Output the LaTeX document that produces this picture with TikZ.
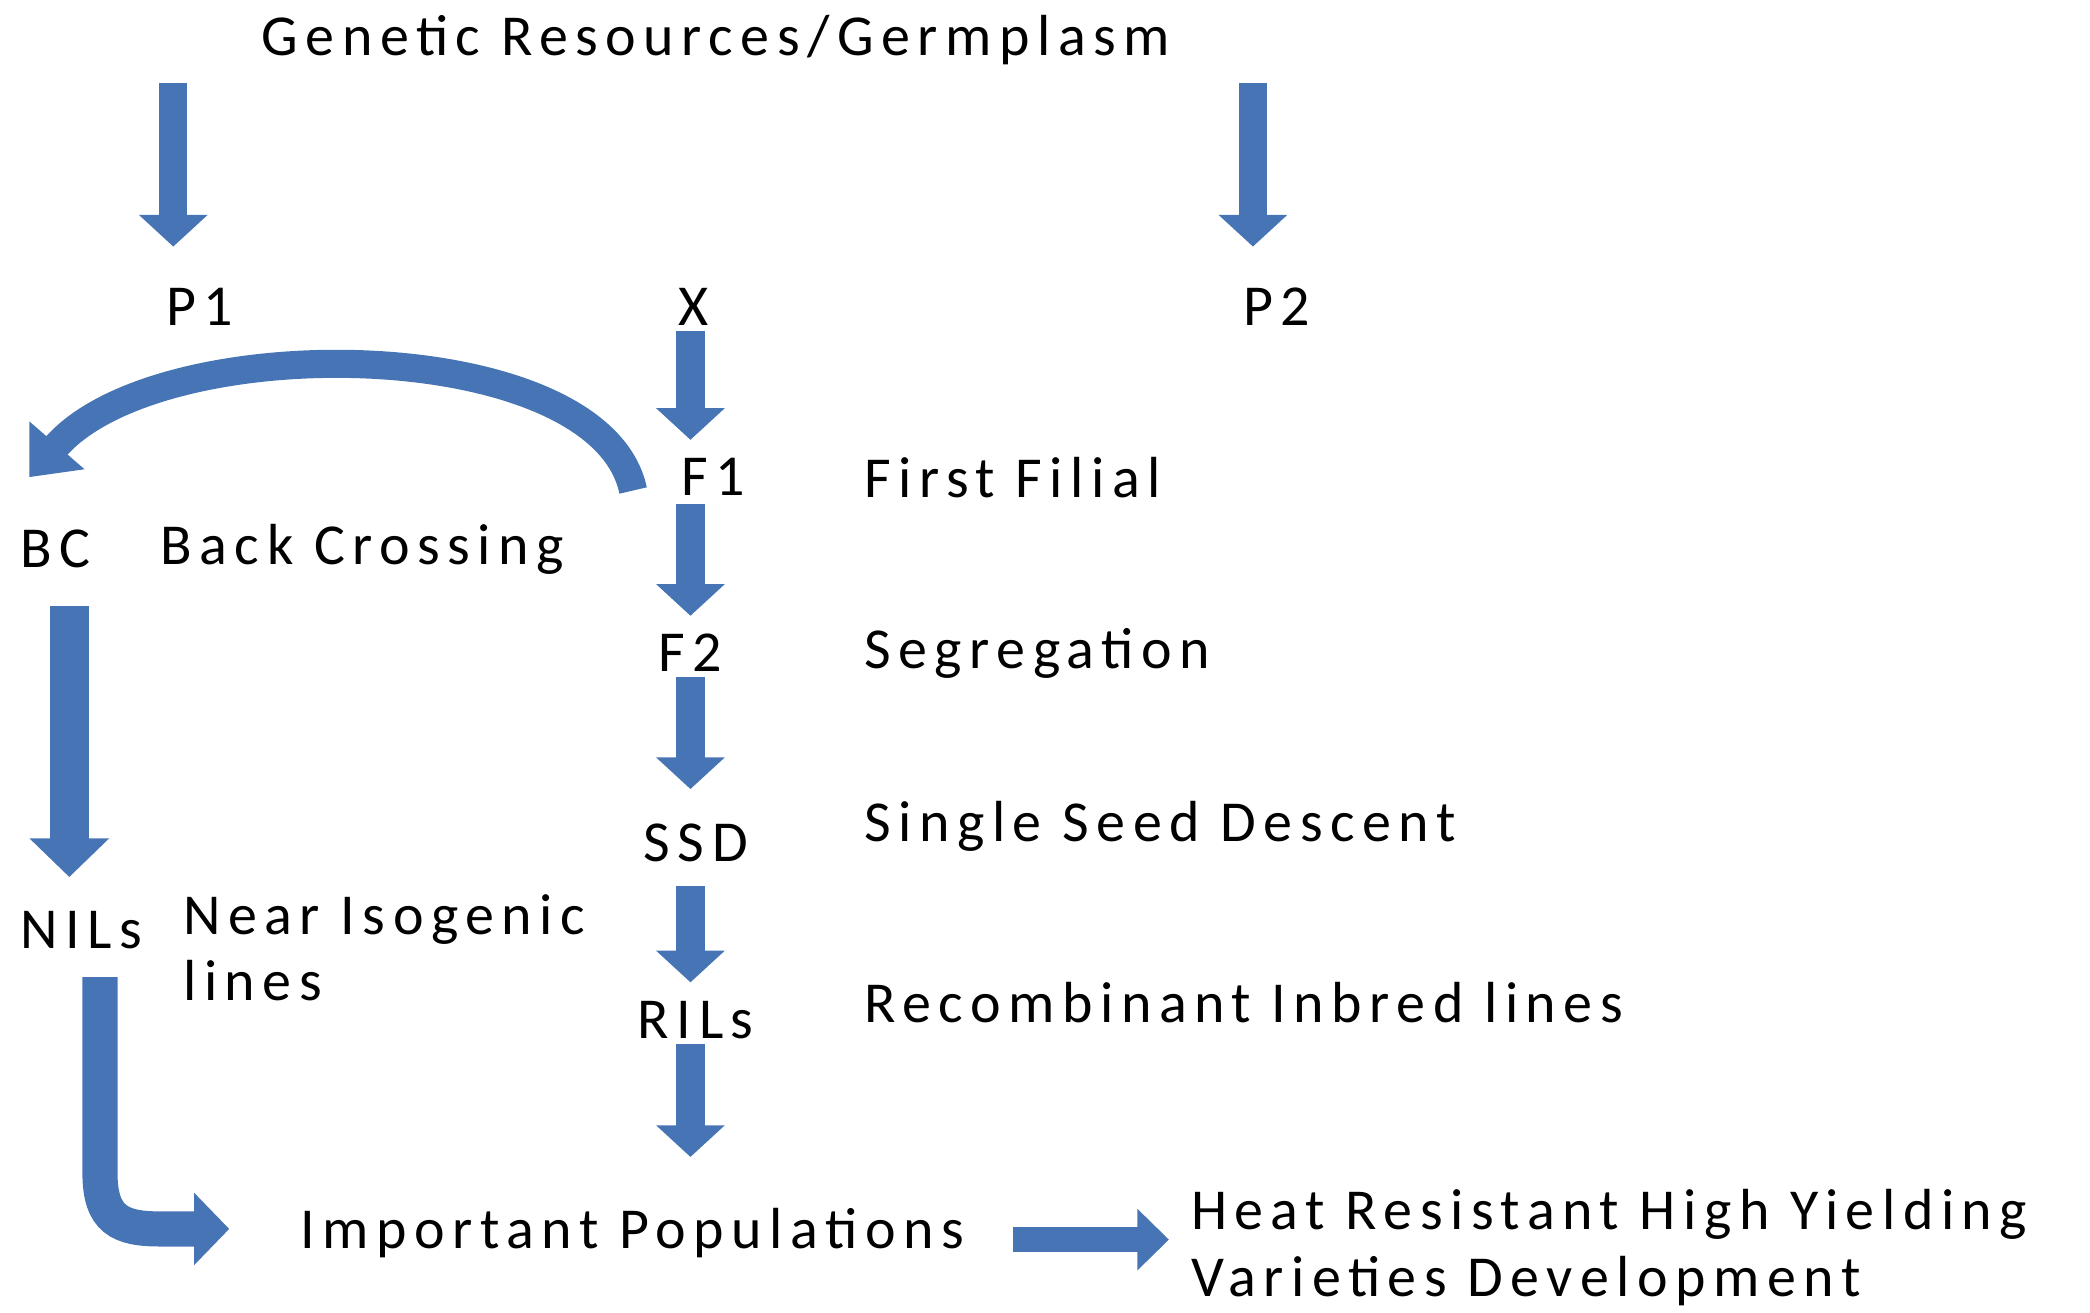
\documentclass[tikz,border=0pt]{standalone}
\usepackage{fontspec}
\setmainfont[LetterSpace=13]{Carlito}
\usetikzlibrary{arrows.meta}
\definecolor{barrow}{HTML}{4674B4}
\tikzset{
 lbl/.style={inner sep=0pt,font=\fontsize{16.5}{18}\selectfont},
 blk/.style={draw=barrow,line width=8pt,-{Triangle[width=19pt,length=9pt]}},
}
\begin{document}
\begin{tikzpicture}[x=0.01333cm,y=-0.01333cm]
\useasboundingbox (0,0) rectangle (1568,985);
\node[lbl] (title) at (537,30) {Genetic Resources/Germplasm};
\node[lbl] (p1) at (150,230) {P1};
\node[lbl] (x) at (520,230) {X};
\node[lbl] (p2) at (958,230) {P2};
\node[lbl] (f1) at (535,358) {F1};
\node[lbl,anchor=west] (ff) at (648,358) {First Filial};
\node[lbl,anchor=west] (bc) at (15,412) {BC};
\node[lbl,anchor=west] (bcx) at (120,412) {Back Crossing};
\node[lbl] (f2) at (518,490) {F2};
\node[lbl,anchor=west] (seg) at (648,490) {Segregation};
\node[lbl] (ssd) at (522,632) {SSD};
\node[lbl,anchor=west] (ssdx) at (648,620) {Single Seed Descent};
\node[lbl] (rils) at (522,765) {RILs};
\node[lbl,anchor=west] (rilsx) at (648,752) {Recombinant Inbred lines};
\node[lbl,anchor=west] (nils) at (15,698) {NILs};
\node[lbl,anchor=west,align=left] (nilsx) at (137,711) {Near Isogenic\\[1pt]lines};
\node[lbl,anchor=west] (ip) at (225,925) {Important Populations};
\node[lbl,anchor=west,align=left] (hr) at (893,936) {Heat Resistant High Yielding\\[1pt]Varieties Development};
\coordinate (a1) at (130,62); \coordinate (a1e) at (130,185);
\coordinate (a2) at (940,62); \coordinate (a2e) at (940,185);
\draw[blk] (a1) -- (a1e);
\draw[blk] (a2) -- (a2e);
\draw[blk] (518,248) -- (518,330);
\draw[blk] (518,378) -- (518,462);
\draw[blk] (518,508) -- (518,592);
\draw[blk] (518,665) -- (518,737);
\draw[blk] (518,783) -- (518,868);
\draw[draw=barrow,line width=11pt,-{Triangle[width=22pt,length=11pt]}] (52,455) -- (52,658);
\draw[draw=barrow,line width=8pt,-{Triangle[width=20pt,length=12pt]}] (475,368) .. controls (450,250) and (120,245) .. (22,358);
\draw[draw=barrow,line width=10pt,-{Triangle[width=20pt,length=10pt]}] (75,733) -- (75,880) .. controls (75,915) and (90,922) .. (120,922) -- (172,922);
\draw[draw=barrow,line width=7pt,-{Triangle[width=17pt,length=9pt]}] (760,930) -- (877,930);
\end{tikzpicture}
\end{document}
